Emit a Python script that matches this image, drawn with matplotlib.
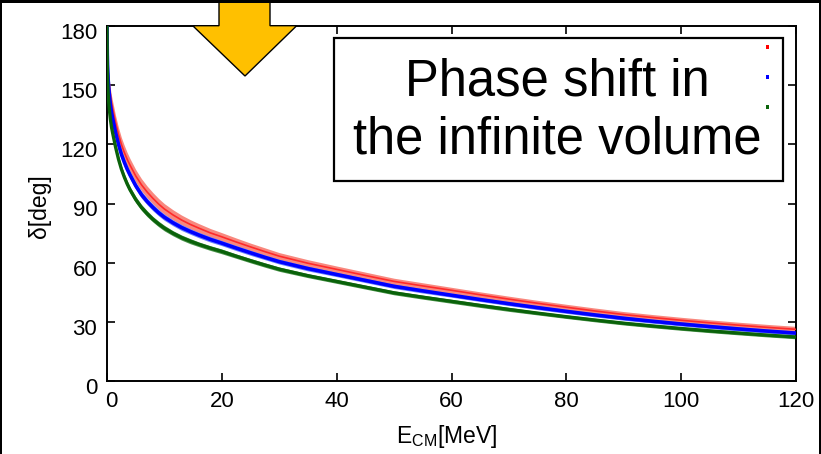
import matplotlib
matplotlib.use("Agg")
import matplotlib.pyplot as plt
import numpy as np
from matplotlib.patches import Polygon, Rectangle
from matplotlib.transforms import ScaledTranslation

plt.rcParams['font.family'] = ['Liberation Sans', 'DejaVu Sans']

# ---- data ----
E_cm = [0, 0.05, 0.1, 0.2, 0.3, 0.45, 0.6, 0.8, 1, 1.25,
        1.5, 2, 2.5, 3, 3.5, 4, 5, 6, 7, 8,
        9, 10, 11.5, 13, 14.5, 16, 18, 20, 22.5, 25,
        27.5, 30, 35, 40, 45, 50, 55, 60, 65, 70,
        75, 80, 85, 90, 95, 100, 105, 110, 115, 120]
delta_blue = [180, 166, 160, 153, 149, 144, 140, 136, 133, 129.5,
              126, 120, 115, 111, 107.5, 104.5, 99, 94.5, 91, 88,
              85.3, 83, 80.2, 77.8, 75.8, 74.0, 71.8, 69.9, 67.4, 65,
              62.7, 60.5, 57, 54, 51, 48, 45.7, 43.5, 41.3, 39.2,
              37.2, 35.3, 33.5, 31.8, 30.3, 28.9, 27.6, 26.4, 25.3, 24.3]
delta_red = [180, 168, 163, 156.8, 153.2, 148.6, 144.8, 141, 138, 134.5,
             131, 125, 120, 116, 112.5, 109.5, 104, 99.5, 95.8, 92.6,
             89.7, 87.2, 84.2, 81.6, 79.4, 77.5, 75.1, 73.1, 70.5, 68,
             65.6, 63.3, 59.7, 56.6, 53.5, 50.5, 48.2, 46, 43.7, 41.5,
             39.4, 37.4, 35.5, 33.7, 32.2, 30.8, 29.5, 28.3, 27.2, 26.2]
delta_green = [180, 162, 154, 146, 141.5, 136.5, 132.5, 128.5, 125.5, 122,
               118.5, 112.5, 107.5, 103.5, 100, 97, 92, 88, 84.8, 82,
               79.6, 77.5, 74.9, 72.7, 70.9, 69.3, 67.4, 65.7, 63.3, 61,
               58.8, 56.7, 53.4, 50.5, 47.6, 44.7, 42.5, 40.4, 38.3, 36.3,
               34.4, 32.6, 30.9, 29.3, 27.9, 26.6, 25.4, 24.3, 23.25, 22.3]
err_red = [0, 1.0, 1.5, 2.0, 2.5, 3.0, 3.2, 3.4, 3.5, 3.5,
           3.5, 3.5, 3.5, 3.5, 3.4, 3.3, 3.2, 3.1, 3.0, 2.9,
           2.8, 2.7, 2.6, 2.5, 2.4, 2.3, 2.2, 2.1, 2.0, 1.9,
           1.9, 1.8, 1.8, 1.7, 1.7, 1.6, 1.6, 1.5, 1.5, 1.5,
           1.5, 1.5, 1.5, 1.5, 1.5, 1.5, 1.5, 1.5, 1.5, 1.5]
err_blue = [0, 0.8, 1.2, 1.5, 1.7, 1.9, 2.0, 2.1, 2.1, 2.1,
            2.1, 2.1, 2.0, 2.0, 1.9, 1.9, 1.8, 1.8, 1.7, 1.7,
            1.6, 1.6, 1.5, 1.5, 1.4, 1.4, 1.4, 1.3, 1.3, 1.3,
            1.2, 1.2, 1.2, 1.1, 1.1, 1.1, 1.1, 1.0, 1.0, 1.0,
            1.0, 1.0, 1.0, 1.0, 1.0, 1.0, 1.0, 1.0, 1.0, 1.0]
err_green = [0, 0.8, 1.2, 1.5, 1.7, 1.8, 1.9, 1.9, 1.9, 1.9,
             1.9, 1.8, 1.8, 1.7, 1.7, 1.6, 1.6, 1.5, 1.5, 1.4,
             1.4, 1.4, 1.3, 1.3, 1.3, 1.2, 1.2, 1.2, 1.1, 1.1,
             1.1, 1.1, 1.0, 1.0, 1.0, 1.0, 1.0, 1.0, 1.0, 1.0,
             0.9, 0.9, 0.9, 0.9, 0.9, 0.9, 0.9, 0.9, 0.9, 0.9]

x_ticks = [0, 20, 40, 60, 80, 100, 120]
y_ticks = [0, 30, 60, 90, 120, 150, 180]
box_text = "Phase shift in\nthe infinite volume"

W, H = 821, 454
fig = plt.figure(figsize=(W / 100, H / 100), dpi=100)
fig.patch.set_facecolor('white')

def fx(px):
    return px / W

def fy(py):
    return 1 - py / H

ax = fig.add_axes([fx(107), fy(381), (796 - 107) / W, (381 - 26) / H])

E = np.array(E_cm)
series = [
    (np.array(delta_red), np.array(err_red), '#f8887e', '#ff2a2a', 1.2),
    (np.array(delta_blue), np.array(err_blue), '#6a82ff', '#0000ff', 2.6),
    (np.array(delta_green), np.array(err_green), '#4a934a', '#0a620a', 2.4),
]
for d, e, band, line, lw in series:
    ax.fill_between(E, d - e, d + e, color=band, lw=0, zorder=2)
    ax.plot(E, d, color=line, lw=lw, zorder=3, solid_capstyle='butt')

ax.set_xlim(0, 120)
ax.set_ylim(0, 180)
ax.set_xticks(x_ticks)
ax.set_yticks(y_ticks)
ax.tick_params(direction='in', length=6, width=1.2, top=True, right=True,
               labelsize=16, pad=7)
for s in ax.spines.values():
    s.set_linewidth(1.4)

# label offsets as in reference
for lab in ax.get_yticklabels():
    lab.set_transform(lab.get_transform() + ScaledTranslation(0, -5 / 100, fig.dpi_scale_trans))
xl = ax.get_xticklabels()
xl[0].set_transform(xl[0].get_transform() + ScaledTranslation(4.5 / 100, 0, fig.dpi_scale_trans))

fig.text(fx(447), fy(437), r'E$_{\mathregular{CM}}$[MeV]', ha='center', va='center', fontsize=16.5)
fig.text(fx(40), fy(206), 'δ[deg]', ha='center', va='center', rotation=90, fontsize=16.5)

# legend-like box
fig.patches.append(Rectangle((fx(334), fy(181)), (783 - 334) / W, (181 - 38) / H,
                             transform=fig.transFigure, facecolor='white',
                             edgecolor='black', lw=1.6, zorder=10))
fig.text(fx(557), fy(111), box_text, ha='center', va='center', fontsize=36.5,
         linespacing=1.22, zorder=11)
for yy, c in [(47, '#ff0000'), (77, '#0000ff'), (107, '#0b640b')]:
    fig.patches.append(Rectangle((fx(765.5), fy(yy + 1.5)), 3 / W, 3 / H,
                                 transform=fig.transFigure, facecolor=c,
                                 edgecolor='none', zorder=12))

# orange arrow
arrow = [(219, -5), (270, -5), (270, 25.7), (296.7, 25.7), (245, 76),
         (192.7, 25.7), (219, 25.7)]
fig.patches.append(Polygon([(fx(a), fy(b)) for a, b in arrow], closed=True,
                           transform=fig.transFigure, facecolor='#ffc000',
                           edgecolor='black', lw=1.0, zorder=12))

# black frame pieces
fig.patches.append(Rectangle((0, fy(3)), 1, 3 / H, transform=fig.transFigure,
                             facecolor='black', edgecolor='none', zorder=20))
fig.patches.append(Rectangle((0, 0), 2 / W, 1, transform=fig.transFigure,
                             facecolor='black', edgecolor='none', zorder=20))
fig.patches.append(Rectangle((fx(818.5), 0), 2.5 / W, 1, transform=fig.transFigure,
                             facecolor='black', edgecolor='none', zorder=20))

fig.savefig('out.png', dpi=100)
